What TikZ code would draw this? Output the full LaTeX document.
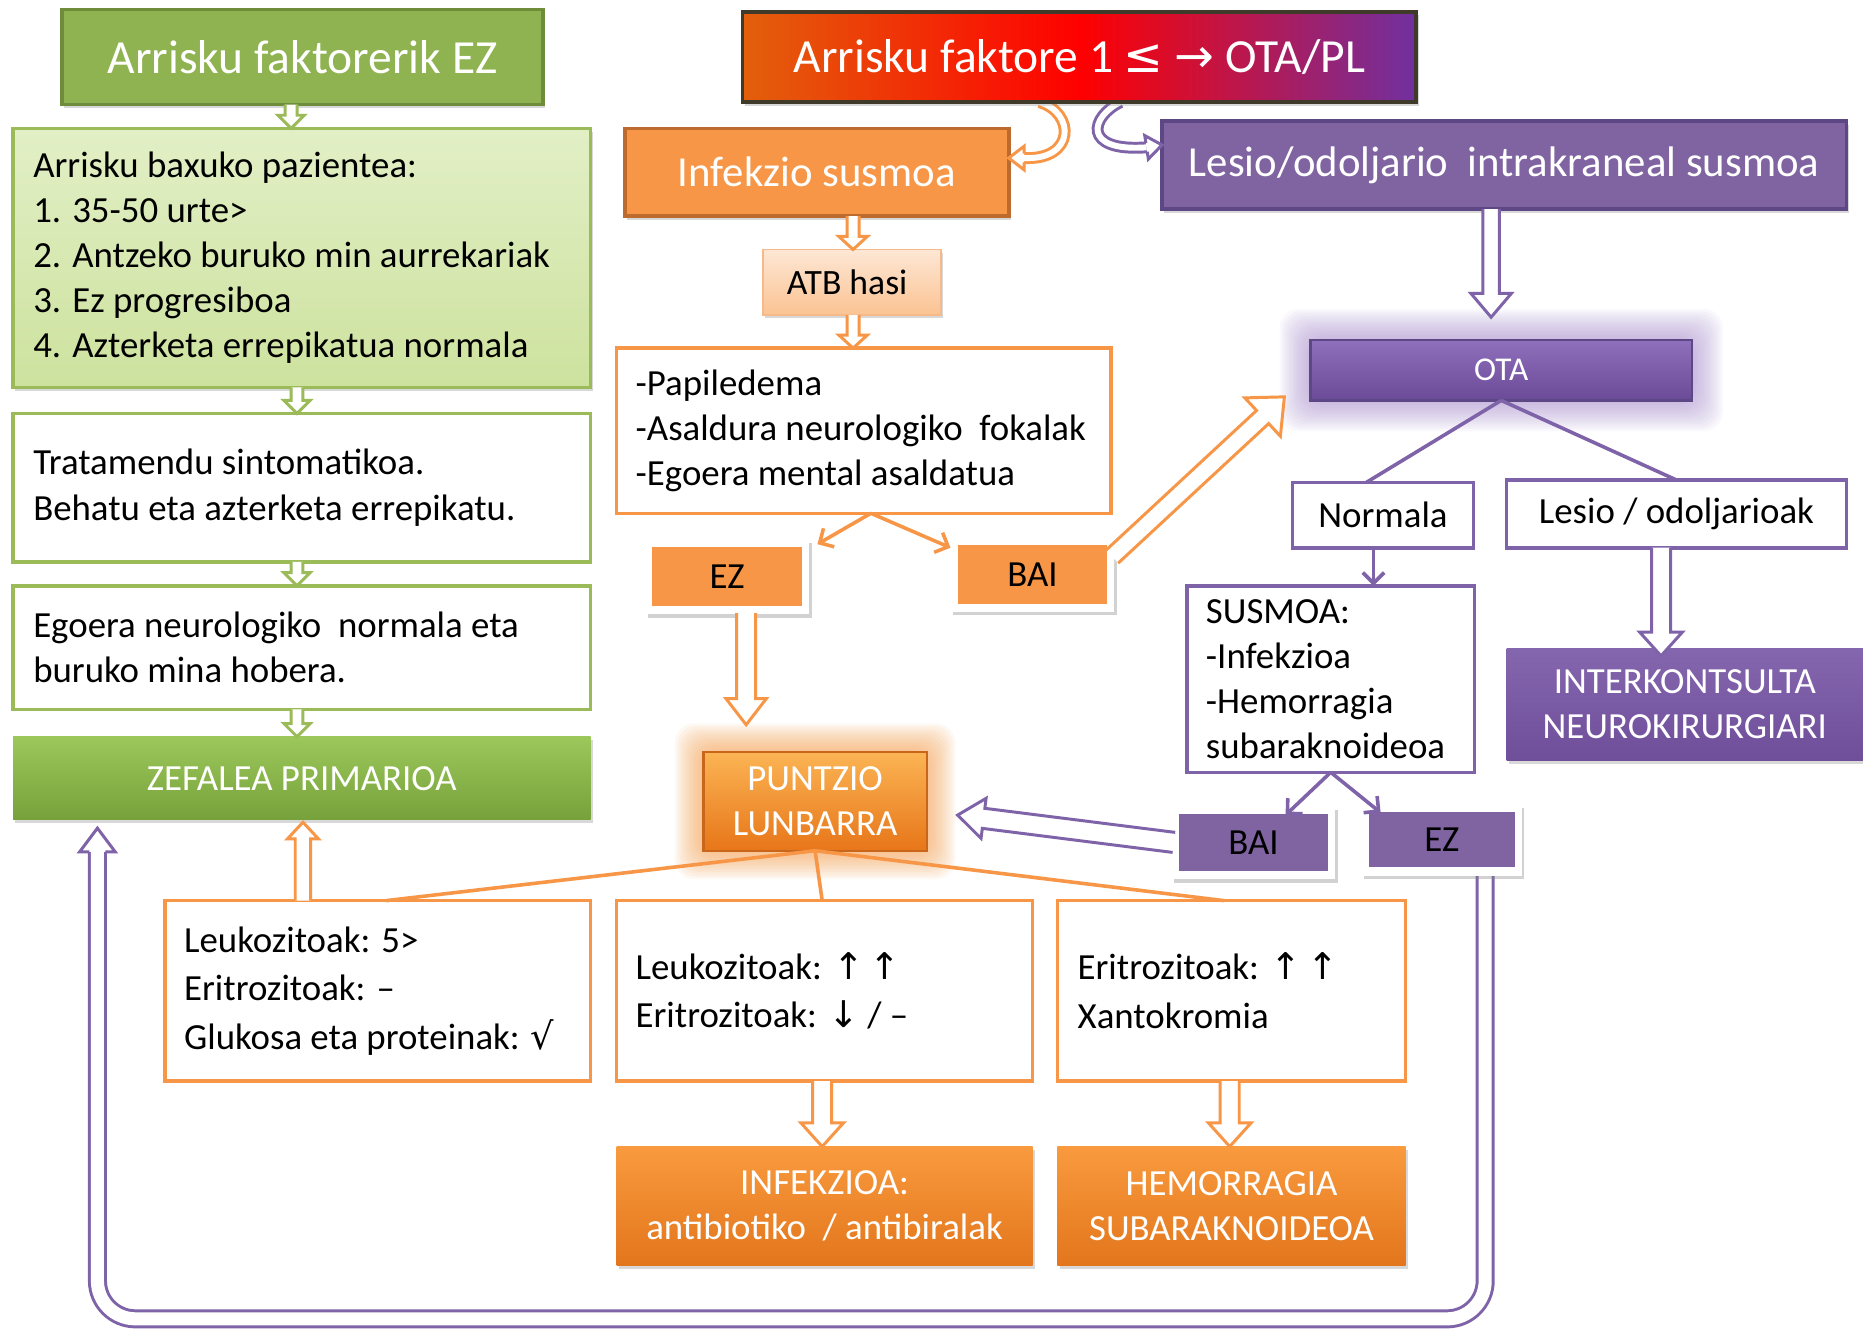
\documentclass[tikz,border=0pt]{standalone}
\usepackage{fontspec}
\setmainfont{Carlito}
\newfontfamily\symf{DejaVu Sans}
\usetikzlibrary{calc,arrows.meta,shadows}
\pgfdeclarelayer{bg}
\pgfsetlayers{bg,main}

\definecolor{gtitle}{HTML}{8FB350}
\definecolor{gtitleb}{HTML}{6E8C3A}
\definecolor{gline}{HTML}{9BBB59}
\definecolor{lgtop}{HTML}{E2EFC6}
\definecolor{lgbot}{HTML}{CDE29E}
\definecolor{zeftop}{HTML}{9CC75B}
\definecolor{zefbot}{HTML}{77A23B}
\definecolor{oline}{HTML}{F79646}
\definecolor{ofill}{HTML}{F79646}
\definecolor{odark}{HTML}{BD6A2E}
\definecolor{pfill}{HTML}{8064A2}
\definecolor{pdark}{HTML}{5D4785}
\definecolor{pline}{HTML}{7F63A8}
\definecolor{topL}{HTML}{E2600C}
\definecolor{topR}{HTML}{7030A0}
\definecolor{topb}{HTML}{403A2A}
\definecolor{atbtop}{HTML}{FDE7D4}
\definecolor{atbbot}{HTML}{FBC393}
\definecolor{atbb}{HTML}{F6B98A}
\definecolor{otatop}{HTML}{8F70BC}
\definecolor{otabot}{HTML}{6B4A97}
\definecolor{intop}{HTML}{8466AE}
\definecolor{inbot}{HTML}{6F4E9A}
\definecolor{punttop}{HTML}{FBB454}
\definecolor{puntbot}{HTML}{E77619}
\definecolor{puntb}{HTML}{C8661C}
\definecolor{restop}{HTML}{F99A3E}
\definecolor{resbot}{HTML}{E3761C}
\definecolor{pglow}{HTML}{A78BCF}
\definecolor{oglow}{HTML}{F9A24F}

\newcommand\harrow[6]{%
  \path (#2) coordinate (hS);
  \path (#3) coordinate (hE);
  \path ($(hE)!#6pt!(hS)$) coordinate (hH);
  \path ($(hS)!#4pt!90:(hE)$) coordinate (hp1);
  \path ($(hH)!#4pt!90:(hE)$) coordinate (hp2);
  \path ($(hH)!#5pt!90:(hE)$) coordinate (hp3);
  \path ($(hH)!#5pt!-90:(hE)$) coordinate (hp5);
  \path ($(hH)!#4pt!-90:(hE)$) coordinate (hp6);
  \path ($(hS)!#4pt!-90:(hE)$) coordinate (hp7);
  \fill[white] (hp1)--(hp2)--(hp3)--(hE)--(hp5)--(hp6)--(hp7)--cycle;
  \draw[line width=2.5pt, line join=miter, #1] (hp1)--(hp2)--(hp3)--(hE)--(hp5)--(hp6)--(hp7);
}
\newcommand\hhead[5]{%
  \path (#2) coordinate (hB);
  \path (#3) coordinate (hT);
  \path ($(hB)!#4pt!90:(hT)$) coordinate (hq1);
  \path ($(hB)!#5pt!90:(hT)$) coordinate (hq2);
  \path ($(hB)!#5pt!-90:(hT)$) coordinate (hq4);
  \path ($(hB)!#4pt!-90:(hT)$) coordinate (hq5);
  \fill[white] (hq1)--(hq2)--(hT)--(hq4)--(hq5)--cycle;
  \draw[line width=2.5pt, line join=miter, #1] (hq1)--(hq2)--(hT)--(hq4)--(hq5);
}

\tikzset{
  every node/.style={inner sep=0pt, outer sep=0pt},
  shad/.style={drop shadow={opacity=0.3, shadow xshift=2pt, shadow yshift=-3pt}},
  gbox/.style={rectangle, draw=gline, line width=3pt, fill=white},
  obox/.style={rectangle, draw=oline, line width=3pt, fill=white},
  pbox/.style={rectangle, draw=pline, line width=3pt, fill=white},
  body/.style={anchor=west, align=left, text=black, font=\fontsize{31}{38}\selectfont},
  wtxt/.style={text=white, align=center, font=\fontsize{31}{38}\selectfont},
  btxt/.style={text=black, align=center, font=\fontsize{31}{38}\selectfont},
  oarr/.style={draw=oline, line width=3pt, -{Straight Barb[length=9pt,width=18pt]}},
  parr/.style={draw=pline, line width=3pt, -{Straight Barb[length=9pt,width=18pt]}},
  dblO/.style={draw=oline, line width=2.5pt, double=white, double distance=5pt},
  dblC/.style={draw=pline, line width=2.5pt, double=white, double distance=5pt},
  dblP/.style={draw=pline, line width=2.5pt, double=white, double distance=11pt, rounded corners=32pt},
}

\begin{document}
\begin{tikzpicture}[x=1pt,y=-1pt]
\useasboundingbox (0,0) rectangle (1568,1119);

% ---------- left column
\node[rectangle, minimum width=405pt, minimum height=80pt, fill=gtitle, draw=gtitleb, line width=3pt, shad, text=white, font=\fontsize{40}{48}\selectfont] (t1) at (254.5,48) {Arrisku faktorerik EZ};
\node[rectangle, minimum width=486pt, minimum height=218pt, top color=lgtop, bottom color=lgbot, draw=gline, line width=3pt, shad] (lg) at (254,217) {};
\node[body] (lgt) at ([xshift=17pt]lg.west) {Arrisku baxuko pazientea:\\1. 35-50 urte>\\2. Antzeko buruko min aurrekariak\\3. Ez progresiboa\\4. Azterketa errepikatua normala};
\node[gbox, minimum width=486pt, minimum height=125pt] (tr) at (254,410.5) {};
\node[body] (trt) at ([xshift=17pt]tr.west) {Tratamendu sintomatikoa.\\Behatu eta azterketa errepikatu.};
\node[gbox, minimum width=486pt, minimum height=104pt] (eg) at (254,545) {};
\node[body] (egt) at ([xshift=17pt]eg.west) {Egoera neurologiko\ \ normala eta\\buruko mina hobera.};
\node[rectangle, minimum width=486pt, minimum height=70pt, top color=zeftop, bottom color=zefbot, shad, wtxt] (zef) at (254,655) {ZEFALEA PRIMARIOA};

% ---------- top and middle
\node[rectangle, minimum width=567pt, minimum height=76pt, draw=topb, line width=3pt, shad, left color=topL, right color=topR, middle color=red, text=white, font=\fontsize{40}{48}\selectfont] (top) at (908.5,48) {Arrisku faktore 1 {\symf ≤} {\symf →} OTA/PL};
\node[rectangle, minimum width=323pt, minimum height=74pt, fill=ofill, draw=odark, line width=3pt, shad, text=white, font=\fontsize{36}{42}\selectfont] (infek) at (687.5,145) {Infekzio susmoa};
\node[rectangle, minimum width=576pt, minimum height=74pt, fill=pfill, draw=pdark, line width=3pt, shad, text=white, font=\fontsize{36}{42}\selectfont] (lesio) at (1266,139) {Lesio/odoljario\ \ intrakraneal susmoa};
\node[rectangle, minimum width=150pt, minimum height=55pt, top color=atbtop, bottom color=atbbot, draw=atbb, line width=1.5pt, shad, btxt, font=\fontsize{30}{35}\selectfont] (atb) at (717,237.5) {ATB hasi\hspace*{8pt}};
\node[obox, minimum width=416pt, minimum height=139pt] (b10) at (727,362.5) {};
\node[body] (b10t) at ([xshift=16pt]b10.west) {-Papiledema\\-Asaldura neurologiko\ \ fokalak\\-Egoera mental asaldatua};
\node[rectangle, minimum width=126pt, minimum height=50pt, fill=ofill, btxt] (ezo) at (612,485) {EZ};
\node[rectangle, minimum width=126pt, minimum height=49pt, fill=ofill, btxt] (baio) at (869,483.5) {BAI};

% ---------- right column
\node[rectangle, minimum width=321pt, minimum height=51pt, top color=otatop, bottom color=otabot, draw=pdark, line width=2pt, wtxt, font=\fontsize{28}{32}\selectfont] (ota) at (1263.5,311.5) {OTA};
\node[pbox, minimum width=152pt, minimum height=55pt, btxt] (norm) at (1164,433.5) {Normala};
\node[pbox, minimum width=286pt, minimum height=57pt, btxt] (les2) at (1411,432.5) {Lesio / odoljarioak};
\node[pbox, minimum width=242pt, minimum height=157pt] (sus) at (1120,571.5) {};
\node[body] (sust) at ([xshift=16pt]sus.west) {SUSMOA:\\-Infekzioa\\-Hemorragia\\subaraknoideoa};
\node[rectangle, minimum width=300pt, minimum height=94pt, top color=intop, bottom color=inbot, shad, wtxt] (interk) at (1418,593) {INTERKONTSULTA\\NEUROKIRURGIARI};
\node[rectangle, minimum width=188pt, minimum height=83pt, top color=punttop, bottom color=puntbot, draw=puntb, line width=2pt, wtxt] (punt) at (686,674.5) {PUNTZIO\\LUNBARRA};
\node[rectangle, minimum width=126pt, minimum height=48pt, fill=pfill, btxt] (baip) at (1055,709) {BAI};
\node[rectangle, minimum width=123pt, minimum height=47pt, fill=pfill, btxt] (ezp) at (1213.5,706.5) {EZ};

% ---------- results
\node[obox, minimum width=358pt, minimum height=152pt] (r1) at (318,834) {};
\node[body, font=\fontsize{31}{41}\selectfont] (r1t) at ([xshift=16pt]r1.west) {Leukozitoak: 5>\\Eritrozitoak: –\\Glukosa eta proteinak: {\symf √}};
\node[obox, minimum width=350pt, minimum height=152pt] (r2) at (694,834) {};
\node[body, font=\fontsize{31}{41}\selectfont] (r2t) at ([xshift=16pt]r2.west) {Leukozitoak: {\symf ↑\,↑}\\Eritrozitoak: {\symf ↓} / –};
\node[obox, minimum width=293pt, minimum height=152pt] (r3) at (1036.5,834) {};
\node[body, font=\fontsize{31}{41}\selectfont] (r3t) at ([xshift=17pt]r3.west) {Eritrozitoak: {\symf ↑\,↑}\\Xantokromia};
\node[rectangle, minimum width=350pt, minimum height=100pt, top color=restop, bottom color=resbot, shad, wtxt] (inf) at (694,1015) {INFEKZIOA:\\antibiotiko\ \ / antibiralak};
\node[rectangle, minimum width=293pt, minimum height=100pt, top color=restop, bottom color=resbot, shad, wtxt] (hem) at (1036.5,1015) {HEMORRAGIA\\SUBARAKNOIDEOA};

% ---------- background layer: glows, loop, curves, frames
\begin{pgfonlayer}{bg}
\fill[white] (0,0) rectangle (1568,1119);
\foreach \i in {2,4,...,26}
  \fill[pglow, opacity=0.06, rounded corners=16pt] ([xshift=-\i pt, yshift=\i pt]ota.north west) rectangle ([xshift=\i pt, yshift=-\i pt]ota.south east);
\foreach \i in {2,4,...,24}
  \fill[oglow, opacity=0.07, rounded corners=16pt] ([xshift=-\i pt, yshift=\i pt]punt.north west) rectangle ([xshift=\i pt, yshift=-\i pt]punt.south east);
% big return loop
\coordinate (lS) at ([xshift=36.5pt]ezp.south);
\coordinate (lT) at ([xshift=71pt,yshift=-7pt]zef.south west);
\coordinate (lB) at ([yshift=-20pt]lT);
\draw[dblP] (lS) -- (lS |- 0,1110) -- (lT |- 0,1110) -- (lB);
% curved arrows from the top box
\coordinate (c1s) at ([xshift=-33.5pt]top.south);
\coordinate (c1t) at ([yshift=12pt]infek.east);
\coordinate (c1b) at ([xshift=13pt]c1t);
\draw[dblO] (c1s) .. controls +(30,9) and +(43,2) .. (c1b);
\coordinate (c2s) at ([xshift=34.5pt]top.south);
\coordinate (c2t) at ([yshift=17pt]lesio.west);
\coordinate (c2b) at ([xshift=-13pt,yshift=-2pt]c2t);
\draw[dblC] (c2s) .. controls +(-25,12) and +(-55,4) .. (c2b);
% white frames of the yes/no boxes
\foreach \n in {ezo,baio,baip,ezp}
  \fill[white, drop shadow={opacity=0.35, shadow xshift=2pt, shadow yshift=-3pt}] ([xshift=-6pt,yshift=6pt]\n.north west) rectangle ([xshift=6pt,yshift=-7pt]\n.south east);
\end{pgfonlayer}

% ---------- heads of curved arrows
\hhead{draw=oline}{c1b}{c1t}{3.75}{10}
\hhead{draw=pline}{c2b}{c2t}{3.75}{10}
\hhead{draw=pline}{lB}{lT}{6.75}{15}

% ---------- thin connectors
\draw[oarr] ([xshift=6pt]b10.south) -- ([xshift=13pt,yshift=2pt]ezo.north east);
\draw[oarr] ([xshift=6pt]b10.south) -- ([xshift=-6pt,yshift=-2pt]baio.north west);
\draw[pline, line width=3pt] (ota.south) -- ([xshift=-14pt]norm.north);
\draw[pline, line width=3pt] (ota.south) -- (les2.north);
\draw[parr] ([xshift=-8pt]norm.south) -- ([xshift=-8pt]norm.south |- sus.north);
\draw[parr] (sus.south) -- ([xshift=-36pt,yshift=-1pt]baip.north east);
\draw[parr] (sus.south) -- ([xshift=10pt,yshift=-1pt]ezp.north west);
\draw[oline, line width=3pt] (punt.south) -- ([xshift=7pt]r1.north);
\draw[oline, line width=3pt] (punt.south) -- ([xshift=-2pt]r2.north);
\draw[oline, line width=3pt] (punt.south) -- ([xshift=-6.5pt]r3.north);

% ---------- hollow block arrows
\harrow{draw=gline}{[xshift=-9.5pt]t1.south}{hS |- lg.north}{5}{11}{11}
\harrow{draw=gline}{[xshift=-4pt]lg.south}{hS |- tr.north}{5}{11}{11}
\harrow{draw=gline}{[xshift=-4pt]tr.south}{hS |- eg.north}{5}{11}{11}
\harrow{draw=gline}{[xshift=-4pt]eg.south}{hS |- zef.north}{5}{11}{11}
\harrow{draw=oline}{[xshift=30.5pt]infek.south}{hS |- atb.north}{5}{12}{11}
\harrow{draw=oline}{[xshift=1pt]atb.south}{hS |- b10.north}{5}{12}{11}
\harrow{draw=oline}{[xshift=16pt,yshift=-6pt]ezo.south}{[yshift=23pt]hS |- punt.north}{8}{17}{22}
\harrow{draw=oline}{[xshift=4pt,yshift=15pt]baio.east}{[xshift=-22pt,yshift=3pt]ota.south west}{7.5}{22}{25}
\harrow{draw=oline}{[xshift=116pt]r1.north west}{[yshift=-2pt]hS |- zef.south}{6.5}{13}{14}
\harrow{draw=oline}{[xshift=-2pt]r2.south}{hS |- inf.north}{8}{18}{20}
\harrow{draw=oline}{[xshift=-1.5pt]r3.south}{hS |- hem.north}{8}{18}{20}
\harrow{draw=pline}{[xshift=-11pt]lesio.south}{[yshift=19pt]hS |- ota.north}{7}{17}{20}
\harrow{draw=pline}{[xshift=-13pt]les2.south}{[yshift=-6pt]hS |- interk.north}{8}{18}{20}
\harrow{draw=pline}{[xshift=-4pt]baip.west}{[xshift=26pt,yshift=-11.5pt]punt.east}{8.5}{17}{22}
\end{tikzpicture}
\end{document}
